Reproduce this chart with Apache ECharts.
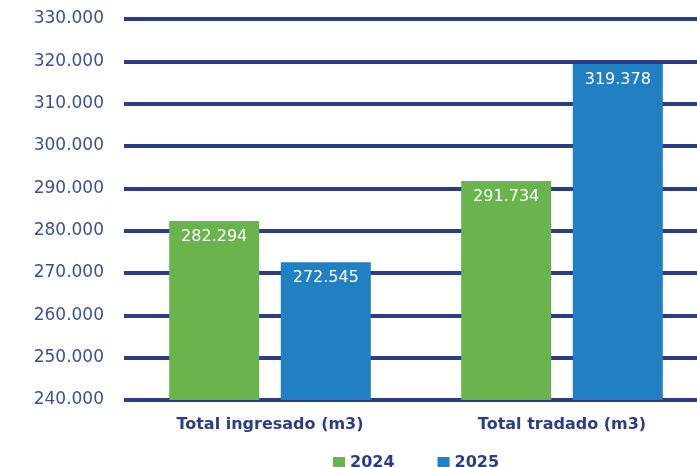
<!DOCTYPE html>
<html><head><meta charset="utf-8">
<script src="https://cdn.jsdelivr.net/npm/echarts@6/dist/echarts.min.js"></script>
<style>html,body{margin:0;padding:0;background:#fff}#c{width:697px;height:467px}</style>
</head><body><div id="c"></div>
<script>
var categories = ['Total ingresado (m3)', 'Total tradado (m3)'];
var years = ['2024', '2025'];
var values2024 = [282294, 291734];
var values2025 = [272545, 319378];
var yMin = 240000, yMax = 330000, yStep = 10000;

function fmt(v){ return String(Math.round(v)).replace(/\B(?=(\d{3})+(?!\d))/g, '.'); }
var FONT = 'DejaVu Sans';
var chart = echarts.init(document.getElementById('c'));
chart.setOption({
  animation: false,
  textStyle: {fontFamily: FONT},
  grid: {left: 124, width: 584, top: 19, bottom: 67, containLabel: false, outerBoundsMode: 'none'},
  legend: {
    data: years, left: 328, top: 450, itemWidth: 12, itemHeight: 12, itemGap: 43, icon: 'rect',
    textStyle: {color: '#2b3d85', fontSize: 16, fontWeight: 'bold', fontFamily: FONT}
  },
  xAxis: {
    type: 'category', data: categories,
    axisLine: {show: false}, axisTick: {show: false},
    axisLabel: {color: '#2b3d85', fontSize: 16, fontWeight: 'bold', margin: 17, fontFamily: FONT}
  },
  yAxis: {
    type: 'value', min: yMin, max: yMax, interval: yStep,
    axisLine: {show: false}, axisTick: {show: false},
    axisLabel: {color: '#3d4f92', fontSize: 17, margin: 20, formatter: fmt, fontFamily: FONT},
    splitLine: {show: true, lineStyle: {color: '#2b3d85', width: 4}}
  },
  series: [
    {name: years[0], type: 'bar', data: values2024, barWidth: 90, barGap: '24%',
     itemStyle: {color: '#6ab44e'},
     label: {show: true, position: 'insideTop', distance: 8, color: '#fff', fontSize: 16, formatter: function(p){return fmt(p.value);}}},
    {name: years[1], type: 'bar', data: values2025, barWidth: 90,
     itemStyle: {color: '#2180c3'},
     label: {show: true, position: 'insideTop', distance: 8, color: '#fff', fontSize: 16, formatter: function(p){return fmt(p.value);}}}
  ]
});
</script></body></html>
